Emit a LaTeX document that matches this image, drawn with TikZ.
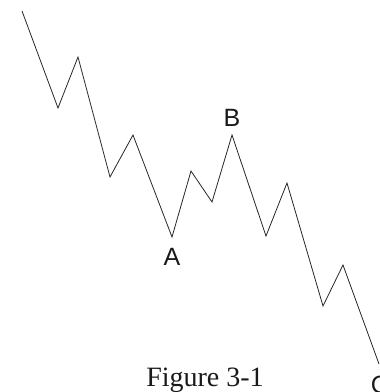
\documentclass[tikz,border=0pt]{standalone}
\usepackage{fontspec}
\setmainfont{Liberation Serif}
\setsansfont{Liberation Sans}
\usepackage{tikz}
\usetikzlibrary{positioning}
\tikzstyle{wave} = [line width=0.8pt, draw=black!85, line join=miter]
\tikzstyle{pointlabel} = [font=\sffamily\fontsize{25}{25}\selectfont, inner sep=0pt, text=black!90]
\tikzstyle{caption} = [font=\rmfamily\fontsize{28}{28}\selectfont, inner sep=0pt, text=black!90]

\begin{document}
\begin{tikzpicture}[x=1pt, y=-1pt]
    \useasboundingbox (0,0) rectangle (380,392);
    \clip (0,0) rectangle (380,392);
    % swing points
    \coordinate (p0) at (22,11);
    \coordinate (p1) at (58,108);
    \coordinate (p2) at (78,57);
    \coordinate (p3) at (110,177);
    \coordinate (p4) at (133,135);
    \coordinate (ptA) at (172,237);
    \coordinate (p6) at (191,171);
    \coordinate (p7) at (212,202);
    \coordinate (ptB) at (232,135);
    \coordinate (p9) at (266,236);
    \coordinate (p10) at (287,183);
    \coordinate (p11) at (323,306);
    \coordinate (p12) at (343,265);
    \coordinate (ptC) at (379,364);

    \draw [wave] (p0) -- (p1) -- (p2) -- (p3) -- (p4) -- (ptA) -- (p6) -- (p7)
        -- (ptB) -- (p9) -- (p10) -- (p11) -- (p12) -- (ptC);

    \node (labA) [pointlabel, below=11pt of ptA] {A};
    \node (labB) [pointlabel, above=8pt of ptB] {B};
    \node (labC) [pointlabel, anchor=north] at (380,376) {C};
    \node (fig) [caption, anchor=base] at (205,386) {Figure 3-1};
\end{tikzpicture}
\end{document}
